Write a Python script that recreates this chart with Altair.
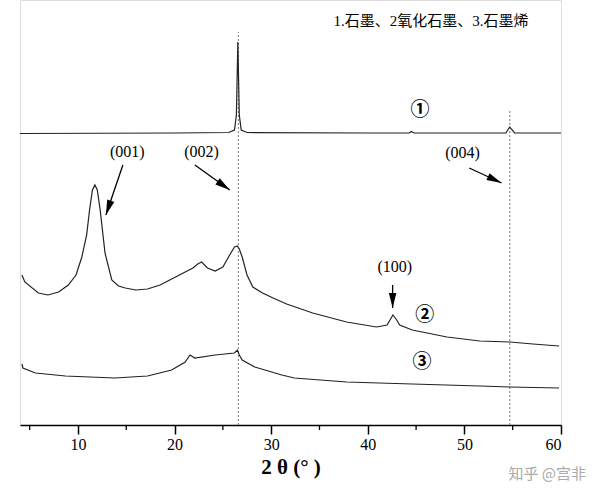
import altair as alt
import pandas as pd

# ---------------- data ----------------
# Sample 1: graphite
theta_1 = [4.0, 20.0, 25.6, 26.2, 26.4, 26.55, 26.7, 26.9, 27.5, 40.0, 44.3, 44.5, 44.8,
           54.3, 54.55, 54.7, 54.85, 55.2, 60.0]
inten_1 = [291.5, 292, 292.5, 295, 310, 383, 310, 295, 292.5, 292, 292, 293.5, 292,
           292, 296, 298, 296, 292, 292]

# Sample 2: graphite oxide
theta_2 = [4.2, 4.5, 5.9, 6.9, 8.0, 9.0, 9.8, 10.4, 10.9, 11.2, 11.5, 11.75, 12.0, 12.3, 12.8,
           13.5, 14.2, 14.9, 16.0, 17.2, 18.5, 19.5, 20.9, 21.9, 22.4, 22.8, 23.4, 24.2, 25.0,
           25.7, 26.2, 26.5, 26.7, 27.0, 27.5, 28.1, 29.1, 30.2, 31.6, 34.3, 37.8, 40.9, 42.0,
           42.3, 42.6, 43.0, 43.3, 44.6, 48.2, 51.6, 54.7, 57.1, 59.8]
inten_2 = [150, 143, 132, 130, 133, 140, 150, 168, 190, 215, 235, 240, 235, 215, 172,
           145, 139, 137, 135, 136, 140, 145, 152, 157, 161, 163, 157, 154, 158,
           170, 178, 179, 176, 168, 150, 138, 132, 127, 121, 112, 103, 98, 100,
           105, 110, 105, 100, 95, 88, 84, 83, 81, 79]

# Sample 3: graphene
theta_3 = [4.2, 4.3, 5.6, 8.7, 13.8, 17.2, 19.7, 21.1, 21.6, 22.1, 24.2, 26.2, 26.5, 26.7,
           27.0, 28.3, 31.1, 32.4, 37.8, 44.6, 51.6, 54.7, 59.8]
inten_3 = [61, 57, 52, 49, 47, 49, 55, 63, 70, 67, 70, 72, 75, 70,
           65, 58, 50, 47, 43, 41, 39, 38, 37]

# reference lines (2θ position, top of the dotted line)
ref_theta = [26.6, 54.7]
ref_top = [393, 315]

# peak annotations
hkl_labels = ["(001)", "(002)", "(004)", "(100)"]
hkl_theta = [15.1, 22.8, 49.8, 42.8]
hkl_inten = [273, 273, 272, 158]
arrow_theta0 = [14.65, 22.1, 50.5, 42.57]
arrow_inten0 = [260, 260, 257, 140]
arrow_theta1 = [12.89, 25.72, 53.85, 42.57]
arrow_inten1 = [210, 235, 242, 117]
arrow_angle = [199, 125, 115, 180]

# sample markers
sample_marks = ["①", "②", "③"]
sample_theta = [45.4, 45.9, 45.6]
sample_inten = [315, 110, 63]

major_ticks = [10, 20, 30, 40, 50, 60]
minor_ticks = [5, 15, 25, 35, 45, 55]

legend_text = "1.石墨、2氧化石墨、3.石墨烯"
watermark = "知乎 @宫非"
x_title = "2 θ (°   )"

# ---------------- tables ----------------
curves = pd.concat([
    pd.DataFrame({"theta": theta_1, "I": inten_1, "s": "1"}),
    pd.DataFrame({"theta": theta_2, "I": inten_2, "s": "2"}),
    pd.DataFrame({"theta": theta_3, "I": inten_3, "s": "3"}),
])
refs = pd.DataFrame({"theta": ref_theta, "top": ref_top, "bottom": [0, 0]})
arrows = pd.DataFrame({"theta": arrow_theta0, "i0": arrow_inten0,
                       "t1": arrow_theta1, "i1": arrow_inten1, "ang": arrow_angle})
heads_df = pd.DataFrame({"theta": arrow_theta1, "I": arrow_inten1, "ang": arrow_angle})
hkl = pd.DataFrame({"label": hkl_labels, "theta": hkl_theta, "I": hkl_inten})
marks = pd.DataFrame({"label": sample_marks, "theta": sample_theta, "I": sample_inten})
minors = pd.DataFrame({"theta": minor_ticks})

SERIF = "Liberation Serif, DejaVu Serif, Noto Sans CJK SC"
xs = alt.Scale(domain=[4, 60], nice=False, zero=False)
ys = alt.Scale(domain=[0, 425], nice=False, zero=False)

xaxis = alt.Axis(values=major_ticks, format="d", grid=False, tickSize=9, tickWidth=1.5,
                 tickColor="black", domainColor="black", domainWidth=1.5,
                 labelFont=SERIF, labelFontSize=16, labelColor="black", labelPadding=2,
                 title=x_title, titleFont=SERIF, titleFontSize=21, titleFontWeight="bold",
                 titleColor="black", titlePadding=4)


def X(field="theta"):
    return alt.X(f"{field}:Q", scale=xs, axis=xaxis, title=x_title)


def Y(field="I"):
    return alt.Y(f"{field}:Q", scale=ys, axis=None)


lines = alt.Chart(curves).mark_line(color="#222222", strokeWidth=1.2).encode(
    x=X(), y=Y(), detail="s:N",
)

ref_rules = alt.Chart(refs).mark_rule(color="#777777", strokeWidth=1, strokeDash=[2, 2]).encode(
    x=X(), y=Y("bottom"), y2="top:Q",
)

shafts = alt.Chart(arrows).mark_rule(color="black", strokeWidth=1.3).encode(
    x=X(), y=Y("i0"), x2="t1:Q", y2="i1:Q",
)

heads = alt.Chart(heads_df).mark_point(
    shape="M0,0L0.75,3L-0.75,3Z", filled=True, color="black", opacity=1, size=100
).encode(
    x=X(), y=Y(), angle=alt.Angle("ang:Q", scale=None),
)

hkl_text = alt.Chart(hkl).mark_text(font=SERIF, fontSize=16, color="black").encode(
    x=X(), y=Y(), text="label:N",
)

mark_text = alt.Chart(marks).mark_text(
    font="Noto Sans CJK SC", fontSize=19, fontWeight="bold", color="black"
).encode(
    x=X(), y=Y(), text="label:N",
)

minor_rules = alt.Chart(minors).mark_rule(color="black", strokeWidth=1.3).encode(
    x=X(), y=alt.value(425), y2=alt.value(430),
)

title_text = alt.Chart(pd.DataFrame({"t": [legend_text]})).mark_text(
    font="Liberation Serif, Noto Sans CJK SC", fontSize=15, color="black", align="center"
).encode(x=alt.value(411), y=alt.value(21), text="t:N")

wm_text = alt.Chart(pd.DataFrame({"t": [watermark]})).mark_text(
    font="Noto Sans CJK SC", fontSize=15, color="#aaaaaa", align="right"
).encode(x=alt.value(566), y=alt.value(474), text="t:N")

chart = alt.layer(
    ref_rules, lines, shafts, heads, hkl_text, mark_text, minor_rules, title_text, wm_text
).properties(
    width=541, height=425,
    autosize=alt.AutoSizeParams(type="none"),
    padding={"left": 20, "top": 0, "right": 39, "bottom": 73},
).configure_view(stroke=None).configure(background="white")

chart.save("out.html", embed_options={"renderer": "svg", "actions": False})
